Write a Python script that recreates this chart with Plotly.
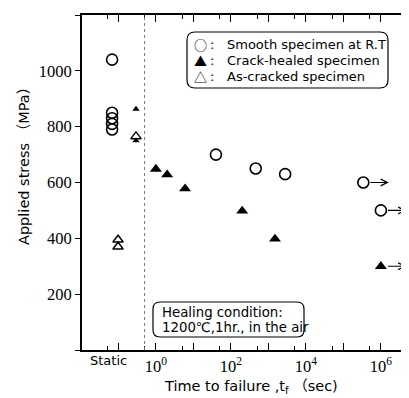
import math
import plotly.graph_objects as go

# ---------------- data ----------------
# static tests (plotted in the "Static" band left of the dotted line)
static_smooth_pos = 0.068
static_smooth_stress = [1040, 850, 830, 810, 790]
static_healed_pos = 0.295
static_healed_stress = [863, 750]
static_cracked_pos = [0.295, 0.098, 0.098]
static_cracked_stress = [765, 395, 370]

# cyclic / sustained load tests
healed_time = [1, 2, 6, 200, 1500, 1e6]
healed_stress = [648, 628, 578, 498, 398, 300]
smooth_time = [40, 460, 2800, 3.4e5, 1e6]
smooth_stress = [700, 650, 630, 600, 500]

# run-outs (did not fail)
runout_time = [3.4e5, 1e6, 1e6]
runout_stress = [600, 500, 300]

divider_time = 0.5

y_tickvals = [0, 200, 400, 600, 800, 1000, 1200]
y_ticktext = ["", "200", "400", "600", "800", "1000", "1200"]
x_major = [0.1, 1, 10, 1e2, 1e3, 1e4, 1e5, 1e6]
x_major_text = ["", "10<sup>0</sup>", "", "10<sup>2</sup>", "", "10<sup>4</sup>", "", "10<sup>6</sup>"]
x_minor = [0.05, 0.5, 5, 50, 500, 5e3, 5e4, 5e5, 5e6]

legend_symbols = ["○", "▲", "△"]
legend_labels = ["Smooth specimen at R.T", "Crack-healed specimen", "As-cracked specimen"]
healing_lines = ["Healing condition:", "1200℃,1hr., in the air"]

# ---------------- layout geometry ----------------
# the page body has an 8px margin, so the figure is drawn 8px in from the top-left
OFF = 8
W, H = 409 - OFF, 398 - OFF
X0, Y1 = 82, 350   # page pixel of plot-area left and bottom
ML, MR, MT = X0 - OFF, 0, 15 - OFF
MB = H - (Y1 - OFF)
PW = W - ML - MR
PH = H - MT - MB


def px(x):
    return (x - X0) / PW


def py(y):
    return (Y1 - y) / PH


def rounded_rect(x0, y0, x1, y1, r):
    a, b, c, d = px(x0), px(x1), py(y0), py(y1)
    rx, ry = r / PW, r / PH
    return (f"M{a+rx},{c} L{b-rx},{c} Q{b},{c} {b},{c-ry} "
            f"L{b},{d+ry} Q{b},{d} {b-rx},{d} L{a+rx},{d} Q{a},{d} {a},{d+ry} "
            f"L{a},{c-ry} Q{a},{c} {a+rx},{c} Z")


SANS = "DejaVu Sans, Noto Sans CJK JP, sans-serif"
CJK = "Noto Sans CJK JP, DejaVu Sans, sans-serif"
SERIF = "Liberation Serif, Times New Roman, serif"

fig = go.Figure()

fig.add_trace(go.Scatter(
    x=[static_smooth_pos] * len(static_smooth_stress) + smooth_time,
    y=static_smooth_stress + smooth_stress,
    mode="markers",
    marker=dict(symbol="circle-open", size=11, color="black", line=dict(width=1.6)),
    showlegend=False))

fig.add_trace(go.Scatter(
    x=static_cracked_pos, y=static_cracked_stress, mode="markers",
    marker=dict(symbol="triangle-up-open", size=9, color="black", line=dict(width=1.4)),
    showlegend=False))

fig.add_trace(go.Scatter(
    x=[static_healed_pos] * len(static_healed_stress), y=static_healed_stress,
    mode="markers",
    marker=dict(symbol="triangle-up", size=6.5, color="black"),
    showlegend=False))

fig.add_trace(go.Scatter(
    x=healed_time, y=healed_stress, mode="markers",
    marker=dict(symbol="triangle-up", size=10.5, color="black"),
    showlegend=False))

annotations = []
for t, s in zip(runout_time, runout_stress):
    lt = math.log10(t)
    annotations.append(dict(
        x=lt + 0.68, y=s, ax=lt + 0.15, ay=s, xref="x", yref="y", axref="x", ayref="y",
        showarrow=True, arrowhead=5, arrowsize=1.1, arrowwidth=1.2, arrowcolor="black",
        text=""))

# legend box text
for i, (sym, txt) in enumerate(zip(legend_symbols, legend_labels)):
    yy = 44 + 16 * i
    annotations.append(dict(x=px(200), y=py(yy), xref="paper", yref="paper",
                            xanchor="center", yanchor="middle", showarrow=False,
                            text=sym, font=dict(family=CJK, size=13, color="black")))
    annotations.append(dict(x=px(212), y=py(yy), xref="paper", yref="paper",
                            xanchor="center", yanchor="middle", showarrow=False,
                            text=":", font=dict(family=SANS, size=13, color="black")))
    annotations.append(dict(x=px(225), y=py(yy), xref="paper", yref="paper",
                            xanchor="left", yanchor="middle", showarrow=False,
                            text=txt, font=dict(family=SANS, size=13, color="black")))

for i, txt in enumerate(healing_lines):
    yy = 312 + 15 * i
    annotations.append(dict(x=px(160), y=py(yy), xref="paper", yref="paper",
                            xanchor="left", yanchor="middle", showarrow=False,
                            text=txt, font=dict(family=SANS, size=13.3, color="black")))

annotations.append(dict(x=px(108), y=py(360), xref="paper", yref="paper",
                        xanchor="center", yanchor="middle", showarrow=False,
                        text="Static", font=dict(family=SANS, size=13, color="black")))

annotations.append(dict(x=px(251), y=py(387), xref="paper", yref="paper",
                        xanchor="center", yanchor="middle", showarrow=False,
                        text="Time to failure ,t<sub>f</sub> （sec)",
                        font=dict(family=SANS, size=14.5, color="black")))

annotations.append(dict(x=px(24), y=py(163), xref="paper", yref="paper",
                        xanchor="center", yanchor="middle", showarrow=False, textangle=-90,
                        text="Applied stress （MPa）",
                        font=dict(family=SANS, size=14.5, color="black")))

shapes = [
    dict(type="line", xref="x", yref="paper", x0=divider_time, x1=divider_time, y0=0, y1=1,
         line=dict(color="#777", width=1, dash="dot")),
    dict(type="path", xref="paper", yref="paper", path=rounded_rect(187, 32, 388, 88, 8),
         line=dict(color="black", width=1.2)),
    dict(type="path", xref="paper", yref="paper", path=rounded_rect(153, 302, 304, 337, 7),
         line=dict(color="black", width=1.2)),
]

fig.update_layout(
    width=W, height=H,
    margin=dict(l=ML, r=MR, t=MT, b=MB, autoexpand=False),
    paper_bgcolor="white", plot_bgcolor="white",
    shapes=shapes, annotations=annotations,
    showlegend=False,
    xaxis=dict(type="log", range=[-1.97, 6.75], showgrid=False, zeroline=False,
               showline=True, linecolor="black", linewidth=1.5, mirror="ticks",
               tickmode="array", tickvals=x_major, ticktext=x_major_text,
               ticks="inside", ticklen=7, tickwidth=1.3, tickcolor="black",
               tickfont=dict(family=SERIF, size=16.5, color="black"),
               automargin=False,
               minor=dict(tickmode="array", tickvals=x_minor, ticks="inside",
                          ticklen=4, tickwidth=1.3, tickcolor="black", showgrid=False)),
    yaxis=dict(range=[0, 1200], showgrid=False, zeroline=False,
               showline=True, linecolor="black", linewidth=2,
               tickmode="array", tickvals=y_tickvals, ticktext=y_ticktext,
               ticks="outside", ticklen=5, tickwidth=1.3, tickcolor="black",
               automargin=False,
               tickfont=dict(family=SERIF, size=16.5, color="black")),
)

fig.write_html("out.html")
